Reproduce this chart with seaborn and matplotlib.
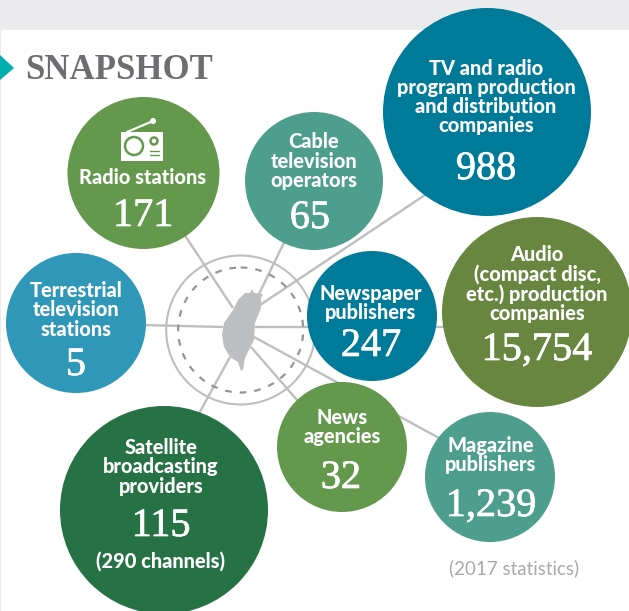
import pandas as pd
import seaborn as sns
import matplotlib.pyplot as plt
import matplotlib.patheffects as pe
from matplotlib.patches import Circle, Rectangle, Polygon

names = ['Radio stations', 'Cable\ntelevision\noperators', 'TV and radio\nprogram production\nand distribution\ncompanies',
         'Audio\n(compact disc,\netc.) production\ncompanies', 'Newspaper\npublishers', 'Terrestrial\ntelevision\nstations',
         'News\nagencies', 'Magazine\npublishers', 'Satellite\nbroadcasting\nproviders']
counts = ['171', '65', '988', '15,754', '247', '5', '32', '1,239', '115']

# bubble layout, in pixels of the original picture
bubble_x = [143.5, 314, 487, 537, 372, 76, 342, 490, 164]
bubble_y = [173, 181, 112, 312, 316, 323, 447, 477, 510]
bubble_r = [76, 69, 104, 95, 65, 70, 65, 65, 104]
colors = ['#64994d', '#4d9e8d', '#007a99', '#68863f', '#007a99', '#2f97b7', '#64994d', '#4d9e8d', '#267244']
label_x = [143, 314, 486, 537, 371, 76, 342, 491, 161]
label_y = [177, 161, 97, 284, 303, 310, 427, 455, 467]
count_x = [143, 310, 486, 537, 371, 76, 341, 491, 161]
count_y = [213, 215, 166, 347, 343, 362, 475, 503, 523]

spoke_start = [(143.5, 173), (314, 181), (440, 185), (460, 327), (100, 324), (190, 430), (310, 415), (450, 444)]
spoke_end = [(233, 308), (257, 298), (260, 305), (255, 327), (223, 327), (230, 357), (251, 347), (254, 337)]

taiwan_x = [252, 254, 263, 261, 261, 255, 254, 250, 245, 243, 241, 238, 230, 224, 222, 224, 233, 238, 245, 250]
taiwan_y = [289, 293, 294, 298, 308, 323, 340, 348, 358, 370, 371, 362, 357, 347, 335, 323, 310, 300, 293, 293]

sans = 'Lato'
serif = 'Liberation Serif'
gray = '#bcbec0'

sns.set_theme(style='white')
fig = plt.figure(figsize=(6.29, 6.11), dpi=100)
ax = fig.add_axes([0, 0, 1, 1])

df = pd.DataFrame({'name': names, 'x': bubble_x, 'y': bubble_y})
sizes = {n: (2 * r * 0.72) ** 2 for n, r in zip(names, bubble_r)}
sns.scatterplot(data=df, x='x', y='y', hue='name', palette=dict(zip(names, colors)), size='name', sizes=sizes,
                linewidth=0, alpha=1, legend=False, zorder=3, ax=ax)
ax.set_xlim(0, 629)
ax.set_ylim(611, 0)
ax.axis('off')

# header band and arrow
ax.add_patch(Rectangle((0, 0), 629, 30, color='#ebebed', lw=0, zorder=0))
ax.add_patch(Rectangle((0, 0), 1, 611, color='#ebebed', lw=0, zorder=0))
ax.add_patch(Polygon([(0, 55), (14, 68), (0, 80)], color='#00aeae', lw=0, zorder=1))
ax.text(25, 79, 'SNAPSHOT', family=serif, weight='bold', fontsize=25, color='#6d6e71', va='baseline', ha='left')

# hub
for s, e in zip(spoke_start, spoke_end):
    ax.plot([s[0], e[0]], [s[1], e[1]], color=gray, lw=1.7, zorder=1, solid_capstyle='butt')
ax.add_patch(Circle((240.7, 330), 74.5, fill=False, ec=gray, lw=1.5, zorder=1))
ax.add_patch(Circle((240.7, 330), 62.5, fill=False, ec='#939598', lw=1.6, ls=(0, (3, 3.6)), zorder=1))
ax.fill(taiwan_x, taiwan_y, color=gray, lw=0, zorder=2)

# radio icon
ax.add_patch(Rectangle((121, 132), 42, 29, color='white', lw=0, zorder=4))
ax.plot([127, 153], [132, 121], color='white', lw=1.5, zorder=4)
ax.add_patch(Circle((153, 121), 3, color='white', lw=0, zorder=4))
ax.add_patch(Circle((134, 146), 9, fc='white', ec=colors[0], lw=1.8, zorder=5))
ax.add_patch(Circle((154, 141), 3.5, fc='white', ec=colors[0], lw=1.8, zorder=5))
ax.plot([150, 159], [151, 151], color=colors[0], lw=1, zorder=5)
ax.plot([150, 159], [155, 155], color=colors[0], lw=1, zorder=5)

for n, c, lx, ly, cx, cy in zip(names, counts, label_x, label_y, count_x, count_y):
    ax.text(lx, ly, n, family=sans, weight='black', fontsize=14.4, color='white', ha='center', va='center',
            linespacing=1.02, zorder=6)
    ax.text(cx, cy + 13, c, family=serif, fontsize=29, color='white', ha='center', va='baseline', zorder=6,
            path_effects=[pe.withStroke(linewidth=0.5, foreground='white')])

ax.text(161, 561, '(290 channels)', family=sans, weight='black', fontsize=14.4, color='white', ha='center', va='center', zorder=6)
ax.text(514, 568, '(2017 statistics)', family=sans, fontsize=13.5, color='#a7a9ac', ha='center', va='center', zorder=6)

fig.savefig('out.png', dpi=100)
